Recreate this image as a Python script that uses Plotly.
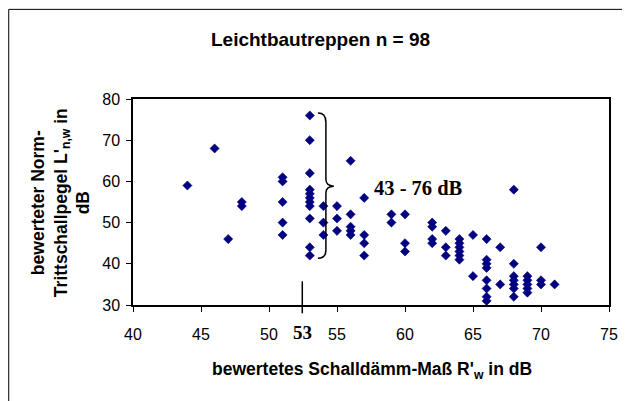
import plotly.graph_objects as go

# Data (x: R'w in dB, y: L'n,w in dB)
x_vals = [44, 46, 47, 48, 48,
          51, 51, 51, 51, 51,
          53, 53, 53, 53, 53, 53, 53, 53, 53, 53, 53,
          54, 54, 54,
          55, 55, 55,
          56, 56, 56, 56, 56,
          57, 57, 57, 57,
          59, 59,
          60, 60, 60,
          62, 62, 62, 62,
          63, 63, 63,
          64, 64, 64, 64, 64, 64,
          65, 65,
          66, 66, 66, 66, 66, 66, 66, 66,
          67, 67,
          68, 68, 68, 68, 68, 68, 68,
          69, 69, 69, 69, 69,
          70, 70, 70,
          71]
y_vals = [59, 68, 46, 55, 54,
          61, 60, 55, 50, 47,
          76, 70, 62, 58, 57, 56, 55, 54, 51, 44, 42,
          54, 50, 47,
          54, 51, 48,
          65, 52, 49, 48, 47,
          56, 47, 45, 42,
          52, 50,
          52, 45, 43,
          50, 49, 46, 45,
          48, 44, 42,
          46, 45, 44, 43, 42, 41,
          47, 37,
          46, 41, 40, 39, 36, 34, 32, 31,
          44, 35,
          58, 40, 37, 36, 35, 34, 32,
          37, 36, 35, 34, 33,
          44, 36, 35,
          35]
x_ticks = [40, 45, 50, 55, 60, 65, 70, 75]
y_ticks = [30, 40, 50, 60, 70, 80]
title_text = "Leichtbautreppen n = 98"
x_title = "bewertetes Schalldämm-Maß R'<sub>w</sub> in dB"
y_title = "bewerteter Norm-<br>Trittschallpegel L'<sub>n,w</sub> in<br>dB"
marker_label = "53"
range_label = "43 - 76 dB"

# page has an 8px body margin: the figure starts at page (8, 8)
OFF = 8
PAGE_W, PAGE_H = 630, 401
W, H = PAGE_W - OFF, PAGE_H - OFF
# plot area in page pixels
PL, PR, PT, PB = 133.3, 611.3, 99.0, 304.7
L = PL - OFF
T = PT - OFF
R = PAGE_W - PR
B = PAGE_H - PB
x0, x1 = 40, 75
y0, y1 = 30, 80
pw = PR - PL
ph = PB - PT

def dx(px):
    return x0 + (px - PL) / pw * (x1 - x0)

def dy(py):
    return y0 + (PB - py) / ph * (y1 - y0)

def px_paper(px):
    return (px - PL) / pw

def py_paper(py):
    return (PB - py) / ph

fig = go.Figure()
fig.add_trace(go.Scatter(
    x=x_vals, y=y_vals, mode="markers",
    marker=dict(symbol="diamond", size=7, color="#000080",
                line=dict(width=0.6, color="#000080")),
    cliponaxis=False, showlegend=False, hoverinfo="x+y"))

# curly brace (page pixels -> data)
pts = [(319, 113), (327, 113), (327, 122), (327, 179), (327, 186), (335, 186),
       (327, 186), (327, 193), (327, 250), (327, 258), (319, 258)]
d = [(dx(a), dy(b)) for a, b in pts]
path = ("M {0[0]},{0[1]} Q {1[0]},{1[1]} {2[0]},{2[1]} L {3[0]},{3[1]} "
        "Q {4[0]},{4[1]} {5[0]},{5[1]} Q {6[0]},{6[1]} {7[0]},{7[1]} "
        "L {8[0]},{8[1]} Q {9[0]},{9[1]} {10[0]},{10[1]}").format(*d)

shapes = [
    dict(type="path", path=path, xref="x", yref="y",
         line=dict(color="black", width=1.5)),
    dict(type="line", xref="x", yref="paper", x0=dx(303.3), x1=dx(303.3),
         y0=py_paper(281), y1=py_paper(313), line=dict(color="black", width=1.5)),
    # outer frame
    dict(type="line", xref="paper", yref="paper", x0=px_paper(8.5), x1=px_paper(8.5),
         y0=py_paper(9.5), y1=py_paper(402), line=dict(color="black", width=1)),
    dict(type="line", xref="paper", yref="paper", x0=px_paper(8.5), x1=px_paper(631),
         y0=py_paper(9.5), y1=py_paper(9.5), line=dict(color="black", width=1)),
    dict(type="line", xref="paper", yref="paper", x0=px_paper(628.5), x1=px_paper(628.5),
         y0=py_paper(9.5), y1=py_paper(402), line=dict(color="black", width=1)),
]

annotations = [
    dict(text="<b>" + title_text + "</b>", xref="paper", yref="paper",
         x=px_paper(321.5), y=py_paper(40), showarrow=False,
         font=dict(family="Liberation Sans, Arial", size=19, color="black"),
         xanchor="center", yanchor="middle"),
    dict(text="<b>" + x_title + "</b>", xref="paper", yref="paper",
         x=px_paper(373), y=py_paper(370), showarrow=False,
         font=dict(family="Liberation Sans, Arial", size=17.5, color="black"),
         xanchor="center", yanchor="middle"),
    dict(text="<b>" + y_title + "</b>", xref="paper", yref="paper",
         x=px_paper(61), y=py_paper(203), showarrow=False, textangle=-90,
         font=dict(family="Liberation Sans, Arial", size=17.5, color="black"),
         xanchor="center", yanchor="middle", align="center"),
    dict(text="<b>" + marker_label + "</b>", xref="x", yref="paper",
         x=dx(304), y=py_paper(332), showarrow=False,
         font=dict(family="Liberation Serif, Times New Roman", size=19, color="black"),
         xanchor="center", yanchor="middle"),
    dict(text="<b>" + range_label + "</b>", xref="x", yref="y",
         x=dx(420), y=dy(188), showarrow=False,
         font=dict(family="Liberation Serif, Times New Roman", size=20.5, color="black"),
         xanchor="center", yanchor="middle"),
]

fig.update_layout(
    width=W, height=H,
    margin=dict(l=L, r=R, t=T, b=B, pad=0),
    paper_bgcolor="white", plot_bgcolor="white",
    shapes=shapes, annotations=annotations,
    xaxis=dict(range=[x0, x1], tickvals=x_ticks, ticktext=[str(v) for v in x_ticks],
               showgrid=False, zeroline=False, showline=True, linecolor="black",
               linewidth=1.5, mirror=True, ticks="outside", ticklen=5, tickwidth=1,
               tickcolor="black", ticklabelstandoff=9,
               tickfont=dict(family="Liberation Sans, Arial", size=16, color="black")),
    yaxis=dict(range=[y0, y1], tickvals=y_ticks, ticktext=[str(v) for v in y_ticks],
               showgrid=False, zeroline=False, showline=True, linecolor="black",
               linewidth=1.5, mirror=True, ticks="outside", ticklen=5, tickwidth=1,
               tickcolor="black", ticklabelstandoff=3,
               tickfont=dict(family="Liberation Sans, Arial", size=16, color="black")),
)

fig.write_html("out.html")
